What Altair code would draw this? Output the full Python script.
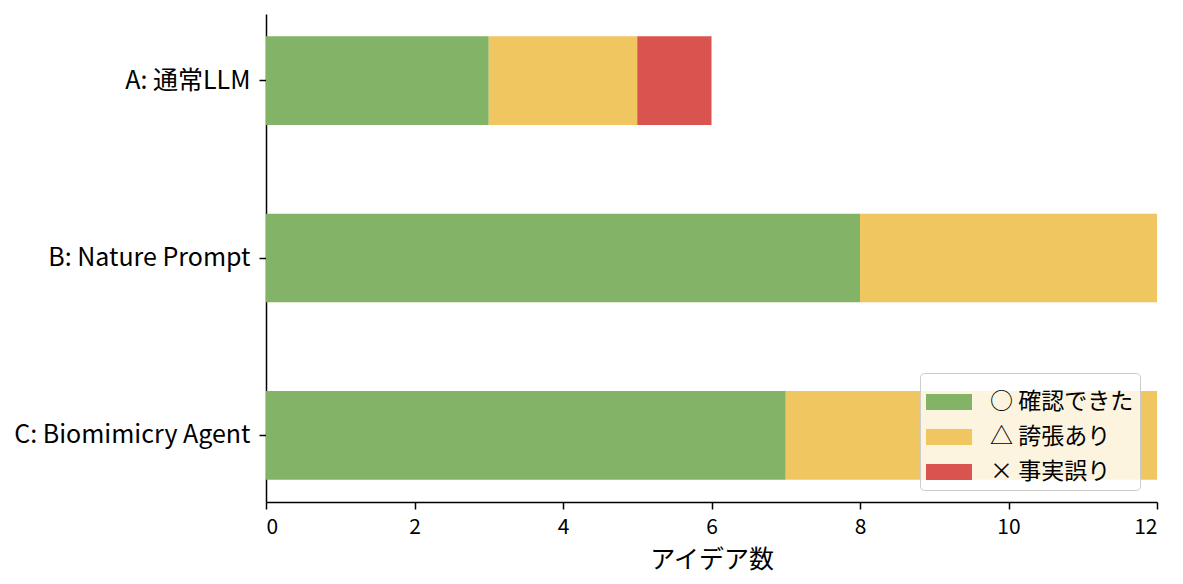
import altair as alt
import pandas as pd

groups = ["A: 通常LLM", "B: Nature Prompt", "C: Biomimicry Agent"]
statuses = ["○ 確認できた", "△ 誇張あり", "× 事実誤り"]
confirmed = [3, 8, 7]
exaggerated = [2, 4, 5]
wrong = [1, 0, 0]
colors = ["#82b366", "#f0c660", "#d9534f"]

rows = []
for i, g in enumerate(groups):
    for j, (s, vals) in enumerate(zip(statuses, [confirmed, exaggerated, wrong])):
        rows.append({"group": g, "status": s, "value": vals[i], "ord": j})
df = pd.DataFrame(rows)

FONT = "Noto Sans CJK JP"

chart = alt.Chart(df).mark_bar().encode(
    y=alt.Y("group:N", sort=groups, title=None,
            scale=alt.Scale(paddingInner=0.5, paddingOuter=0.125),
            axis=alt.Axis(labelFontSize=25, labelColor="#000", tickColor="#000",
                          domainColor="#000", tickSize=7, tickWidth=1.5, domainWidth=1.5,
                          labelPadding=9, labelFont=FONT, labelLimit=400)),
    x=alt.X("value:Q", stack="zero", title="アイデア数",
            scale=alt.Scale(domain=[0, 12], nice=False),
            axis=alt.Axis(values=[0, 2, 4, 6, 8, 10, 12], grid=False, labelFontSize=21,
                          labelColor="#000", tickColor="#000", domainColor="#000",
                          tickSize=7, tickWidth=1.5, domainWidth=1.5, labelPadding=7,
                          titleFontSize=25, titleFontWeight="normal",
                          titleColor="#000", titlePadding=10, labelFont=FONT, titleFont=FONT)),
    color=alt.Color("status:N", sort=statuses,
                    scale=alt.Scale(domain=statuses, range=colors),
                    legend=alt.Legend(title=None, orient="none", legendX=654, legendY=359,
                                      symbolType="M-1,-0.35H1V0.35H-1Z", symbolSize=2116,
                                      symbolStrokeWidth=0, labelFontSize=23, labelFont=FONT,
                                      labelColor="#000", fillColor="rgba(255,255,255,0.8)",
                                      strokeColor="#cccccc", cornerRadius=4,
                                      padding=6, rowPadding=0, labelOffset=18)),
    order=alt.Order("ord:Q"),
).properties(
    width=891, height=488,
    autosize=alt.AutoSizeParams(type="none"),
    padding={"left": 258, "top": 6, "right": 18, "bottom": 76},
).configure_view(stroke=None).configure_axis(grid=False)

chart.save("out.html", embed_options={"renderer": "svg", "actions": False})
